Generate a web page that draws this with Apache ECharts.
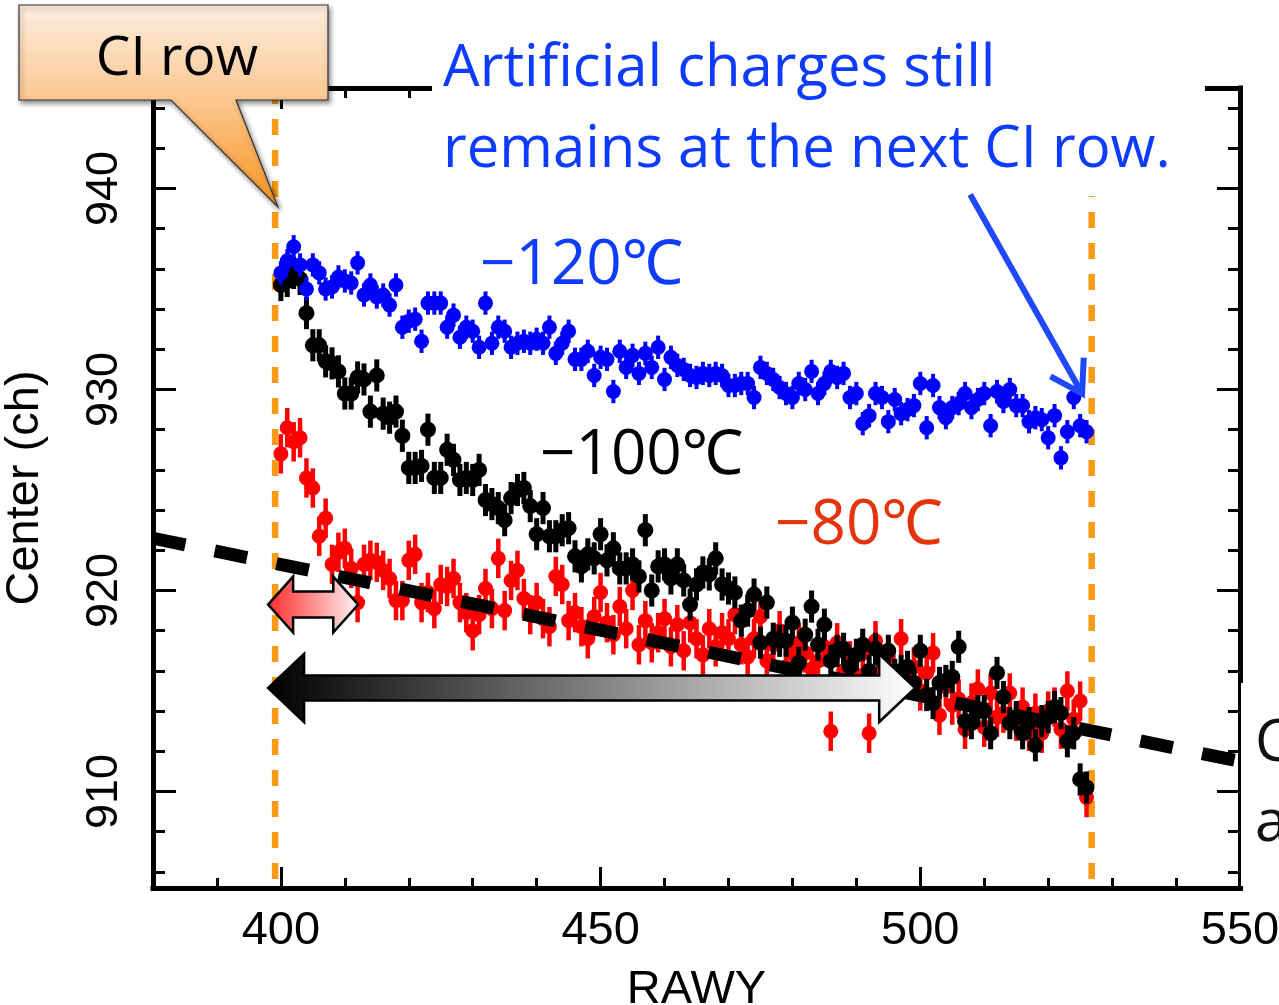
<!DOCTYPE html>
<html><head><meta charset="utf-8">
<script src="https://cdn.jsdelivr.net/npm/echarts@6/dist/echarts.min.js"></script>
<style>html,body{margin:0;padding:0;background:#fff}#c{width:1279px;height:1005px}</style>
</head><body><div id="c"></div><script>
// ---------- data ----------
const rawy = [
400,401,402,403,404,405,406,407,408,409,
410,411,412,413,414,415,416,417,418,419,
420,421,422,423,424,425,426,427,428,429,
430,431,432,433,434,435,436,437,438,439,
440,441,442,443,444,445,446,447,448,449,
450,451,452,453,454,455,456,457,458,459,
460,461,462,463,464,465,466,467,468,469,
470,471,472,473,474,475,476,477,478,479,
480,481,482,483,484,485,486,487,488,489,
490,491,492,493,494,495,496,497,498,499,
500,501,502,503,504,505,506,507,508,509,
510,511,512,513,514,515,516,517,518,519,
520,521,522,523,524,525,526];
const center120 = [
935.8,936.4,937.1,936.2,935.0,936.2,935.8,935.0,935.1,935.6,
935.4,935.3,936.3,934.7,935.2,934.6,934.7,934.2,935.2,933.1,
933.4,933.5,932.4,934.3,934.3,934.3,933.1,933.7,932.6,933.1,
932.9,932.1,934.3,932.3,933.1,932.9,932.1,932.3,932.4,932.3,
932.5,932.3,933.1,931.8,932.3,932.9,931.5,931.5,931.9,930.7,
931.6,931.5,929.9,931.9,931.1,931.7,930.8,931.8,931.1,932.1,
930.5,931.6,931.2,931.0,930.7,930.6,930.8,930.7,930.8,930.7,
930.2,930.2,930.3,930.3,929.6,931.1,930.8,930.5,930.1,929.8,
929.6,930.3,930.0,930.9,929.8,930.3,930.9,930.6,930.8,929.6,
929.8,928.3,928.7,929.8,929.6,928.4,929.5,928.8,929.0,929.2,
930.3,928.1,930.2,929.1,928.6,929.1,929.3,929.8,929.1,929.5,
929.8,928.2,929.9,929.4,930.0,929.2,929.2,928.4,928.6,928.5,
927.6,928.7,926.6,927.9,929.6,928.2,927.9];
const center100 = [
935.2,935.4,935.8,935.5,933.8,932.2,932.2,931.4,931.3,930.9,
929.8,929.8,930.6,930.5,928.9,930.7,928.8,928.6,928.9,927.7,
926.1,926.1,926.2,928.0,925.6,925.6,927.0,926.5,925.5,925.6,
925.5,926.0,924.5,924.3,924.1,923.5,924.6,925.0,925.1,924.2,
922.8,924.1,922.7,922.7,923.0,923.1,921.7,921.2,921.8,921.6,
922.8,921.5,922.1,921.1,921.1,921.3,920.7,923.0,920.0,921.2,
921.3,920.6,921.3,920.5,919.3,920.3,920.9,920.8,921.6,920.3,
920.1,919.9,918.5,919.0,919.8,917.4,919.4,917.6,917.5,917.5,
918.4,916.4,917.8,919.2,917.3,918.3,916.5,917.0,917.1,916.2,
916.8,917.3,916.0,917.1,916.5,917.0,915.8,916.0,916.2,915.4,
917.0,914.8,914.4,915.4,915.5,915.7,917.2,913.5,913.4,914.0,
914.0,912.9,915.9,914.7,913.4,913.7,912.9,913.4,912.3,913.5,
913.7,914.2,913.9,912.5,912.9,910.6,910.2];
const center80 = [
926.8,928.1,927.4,927.6,925.6,925.1,922.7,923.6,921.3,921.9,
922.1,921.1,919.4,921.3,921.5,921.4,921.0,920.6,919.5,919.5,
921.5,921.8,919.4,919.9,919.1,920.3,920.2,920.6,919.4,918.9,
918.0,918.8,920.1,919.1,921.6,919.0,920.5,921.0,919.6,918.8,
919.4,918.6,918.2,920.7,920.3,918.5,918.9,918.2,917.6,918.7,
919.9,918.4,917.8,919.2,918.1,920.0,917.3,918.5,917.4,917.9,
918.6,917.2,918.3,917.0,918.4,917.6,916.8,918.1,917.2,917.9,
917.6,918.8,917.3,916.7,917.6,918.7,916.5,917.3,918.0,916.2,
916.9,917.4,916.9,916.1,916.5,917.2,913.0,917.4,916.0,916.5,
915.8,916.9,912.9,917.5,916.0,916.7,915.4,917.6,915.7,916.2,
915.0,915.9,916.9,913.8,915.2,914.3,914.6,913.1,914.4,915.1,
913.2,914.9,913.7,913.9,914.9,913.5,914.2,913.0,913.9,912.9,
914.0,914.2,913.1,915.0,913.6,914.5,909.7];
// half-length of error bars (ch) per temperature
const err120 = 0.58, err100 = 0.8, err80 = 0.98;

// reference lines
const ciRows = [399.1, 526.8];                 // CI row positions (RAWY)
const trendLine = [[380, 922.6], [550, 911.5]]; // dashed guide line

// axes
const X_MIN = 380, X_MAX = 550, Y_MIN = 905.2, Y_MAX = 945;
const xMajor = [400, 450, 500, 550];
const xTickLabels = ['400', '450', '500', '550'];
const xMinor = [390,400,410,420,430,440,450,460,470,480,490,500,510,520,530,540];
const yMajor = [910, 920, 930, 940];
const yTickLabels = ['910', '920', '930', '940'];
const yMinor = [906,908,910,912,914,916,918,920,922,924,926,928,930,932,934,936,938,940,942,944];

// annotations (data coordinates)
const redRange = {from: 398.0, to: 412.1, y: 919.3};
const blackRange = {from: 398.0, to: 499.2, y: 915.15};
const noteArrow = {from: [507.8, 939.7], to: [525.3, 929.8]};
const labels = {
  t120: '\u2212120\u2103', t100: '\u2212100\u2103', t80: '\u221280\u2103',
  note1: 'Artificial charges still', note2: 'remains at the next CI row.',
  ci: 'CI row', xName: 'RAWY', yName: 'Center (ch)', side1: 'C', side2: 'a'
};

// ---------- chart ----------
const FONT_AX = "'Liberation Sans', Arial, Helvetica, sans-serif";
const FONT_TX = "'Open Sans', 'Noto Sans', sans-serif";
const chart = echarts.init(document.getElementById('c'), null, {renderer: 'canvas'});

function mkX(pos, ticks, len, showLine, showLabel) {
  return {
    type: 'value', position: pos, min: X_MIN, max: X_MAX, gridIndex: 0,
    name: showLabel ? labels.xName : '', nameLocation: 'middle', nameGap: 79,
    nameTextStyle: {fontFamily: FONT_AX, fontSize: 47, color: '#000'},
    axisLine: {show: showLine, onZero: false, lineStyle: {color: '#000', width: 5, cap: 'square'}},
    axisTick: {show: true, inside: true, length: len, customValues: ticks, lineStyle: {color: '#000', width: 3}},
    axisLabel: {show: showLabel, customValues: xMajor, margin: 20,
      formatter: v => { const i = xMajor.indexOf(v); return i >= 0 ? xTickLabels[i] : ''; },
      fontFamily: FONT_AX, fontSize: 47, color: '#000'},
    splitLine: {show: false}
  };
}
function mkY(pos, ticks, len, showLine, showLabel) {
  return {
    type: 'value', position: pos, min: Y_MIN, max: Y_MAX, gridIndex: 0,
    name: showLabel ? labels.yName : '', nameLocation: 'middle', nameGap: 104,
    nameTextStyle: {fontFamily: FONT_AX, fontSize: 47, color: '#000'},
    axisLine: {show: showLine, onZero: false, lineStyle: {color: '#000', width: 5, cap: 'square'}},
    axisTick: {show: true, inside: true, length: len, customValues: ticks, lineStyle: {color: '#000', width: 3}},
    axisLabel: {show: showLabel, customValues: yMajor, margin: 26, rotate: 90,
      formatter: v => { const i = yMajor.indexOf(v); return i >= 0 ? yTickLabels[i] : ''; },
      fontFamily: FONT_AX, fontSize: 45, color: '#000'},
    splitLine: {show: false}
  };
}

function errSeries(name, vals, err, color, r, lw, z) {
  return {
    name, type: 'custom', xAxisIndex: 0, yAxisIndex: 0, z, silent: true,
    data: rawy.map((x, i) => [x, vals[i], err]),
    renderItem: (params, api) => {
      const x = api.value(0), y = api.value(1), e = api.value(2);
      const p = api.coord([x, y]);
      const hi = api.coord([x, y + e]);
      const lo = api.coord([x, y - e]);
      return {type: 'group', children: [
        {type: 'line', shape: {x1: p[0], y1: hi[1], x2: p[0], y2: lo[1]}, style: {stroke: color, lineWidth: lw}},
        {type: 'circle', shape: {cx: p[0], cy: p[1], r: r}, style: {fill: color}}
      ]};
    }
  };
}

const option = {
  animation: false,
  backgroundColor: '#fff',
  grid: {left: 153, top: 88, width: 1087, height: 800, containLabel: false, outerBoundsMode: 'none'},
  xAxis: [
    mkX('bottom', xMinor, 10, true, true),
    mkX('bottom', xMajor, 21, false, false),
    mkX('top', xMinor, 10, true, false),
    mkX('top', xMajor, 21, false, false)
  ],
  yAxis: [
    mkY('left', yMinor, 12, true, true),
    mkY('left', yMajor, 23, false, false),
    mkY('right', yMinor, 12, true, false),
    mkY('right', yMajor, 23, false, false)
  ],
  series: [
    ...ciRows.map(cx => ({
      type: 'line', xAxisIndex: 0, yAxisIndex: 0, z: 1, silent: true, symbol: 'none',
      data: [[cx, Y_MAX], [cx, Y_MIN]],
      lineStyle: {color: '#fb9a14', width: 6.5, type: [16, 15], cap: 'butt'}
    })),
    errSeries('-80', center80, err80, '#ff0000', 7.5, 4.5, 2),
    {
      type: 'line', xAxisIndex: 0, yAxisIndex: 0, z: 3, silent: true, symbol: 'none',
      data: trendLine, lineStyle: {color: '#000', width: 13, type: [33, 30], cap: 'butt'}
    },
    errSeries('-100', center100, err100, '#000000', 8, 5, 4),
    errSeries('-120', center120, err120, '#0000ff', 7.5, 4, 5)
  ]
};
chart.setOption(option);

// ---------- annotations ----------
const toPx = (x, y) => chart.convertToPixel({xAxisIndex: 0, yAxisIndex: 0}, [x, y]);
function dblArrow(x0, x1, yc, hl, hh, sh) {
  return [[x0, yc], [x0 + hl, yc - hh], [x0 + hl, yc - sh], [x1 - hl, yc - sh], [x1 - hl, yc - hh],
          [x1, yc], [x1 - hl, yc + hh], [x1 - hl, yc + sh], [x0 + hl, yc + sh], [x0 + hl, yc + hh]];
}
const rA = toPx(redRange.from, redRange.y), rB = toPx(redRange.to, redRange.y);
const bA = toPx(blackRange.from, blackRange.y), bB = toPx(blackRange.to, blackRange.y);
const nA = toPx(noteArrow.from[0], noteArrow.from[1]), nB = toPx(noteArrow.to[0], noteArrow.to[1]);
const ang = Math.atan2(nA[1] - nB[1], nA[0] - nB[0]);
const armL = 36, spread = 32 * Math.PI / 180;
const arm1 = [nB[0] + armL * Math.cos(ang - spread), nB[1] + armL * Math.sin(ang - spread)];
const arm2 = [nB[0] + armL * Math.cos(ang + spread), nB[1] + armL * Math.sin(ang + spread)];

const graphics = [
  // white backgrounds of text boxes (cover axis parts like in the slide)
  {type: 'rect', z: 50, shape: {x: 432, y: 20, width: 773, height: 176}, style: {fill: '#fff'}},
  {type: 'rect', z: 50, shape: {x: 1241, y: 683, width: 40, height: 203}, style: {fill: '#fff'}},
  // range arrows
  {type: 'polygon', z: 60, shape: {points: dblArrow(bA[0], bB[0], bA[1], 36, 34, 12.5)},
   style: {fill: {type: 'linear', x: 0, y: 0, x2: 1, y2: 0, colorStops: [{offset: 0, color: '#000'}, {offset: 1, color: '#fff'}]},
           stroke: '#000', lineWidth: 2.5}},
  {type: 'polygon', z: 60, shape: {points: dblArrow(rA[0], rB[0], rA[1], 25, 28, 13)},
   style: {fill: {type: 'linear', x: 0, y: 0, x2: 1, y2: 0, colorStops: [{offset: 0, color: '#ff2a2a'}, {offset: 1, color: '#fff4f4'}]},
           stroke: '#000', lineWidth: 2.5}},
  // note arrow
  {type: 'polyline', z: 60, shape: {points: [nA, nB]}, style: {stroke: '#1f48ff', lineWidth: 6, fill: null}},
  {type: 'polyline', z: 60, shape: {points: [arm1, nB, arm2]}, style: {stroke: '#1f48ff', lineWidth: 6, fill: null, lineJoin: 'miter'}},
  // temperature labels
  {type: 'text', z: 70, x: 480, y: 266, style: {text: labels.t120, fill: '#0d3bff', font: "62px " + FONT_TX, verticalAlign: 'middle'}},
  {type: 'text', z: 70, x: 540, y: 456, style: {text: labels.t100, fill: '#000', font: "62px " + FONT_TX, verticalAlign: 'middle'}},
  {type: 'text', z: 70, x: 775, y: 526, style: {text: labels.t80, fill: '#e5340b', font: "62px " + FONT_TX, verticalAlign: 'middle'}},
  // note text
  {type: 'text', z: 70, x: 443, y: 69, style: {text: labels.note1, fill: '#0d3bff', font: "58px " + FONT_TX, verticalAlign: 'middle'}},
  {type: 'text', z: 70, x: 443, y: 150, style: {text: labels.note2, fill: '#0d3bff', font: "58px " + FONT_TX, verticalAlign: 'middle'}},
  // right-side cut text
  {type: 'text', z: 70, x: 1255, y: 744, style: {text: labels.side1, fill: '#111', font: "58px " + FONT_TX, verticalAlign: 'middle'}},
  {type: 'text', z: 70, x: 1255, y: 824, style: {text: labels.side2, fill: '#111', font: "58px " + FONT_TX, verticalAlign: 'middle'}},
  // callout
  {type: 'polygon', z: 80,
   shape: {points: [[19, 5], [328, 5], [328, 100], [236, 100], [278, 207], [171, 100], [19, 100]]},
   style: {fill: {type: 'linear', x: 0, y: 0, x2: 0, y2: 1, colorStops: [
       {offset: 0, color: '#fdeee0'}, {offset: 0.46, color: '#fcc892'}, {offset: 1, color: '#f7931e'}]},
     stroke: '#333', lineWidth: 1.2, shadowBlur: 5, shadowOffsetX: 2, shadowOffsetY: 3, shadowColor: 'rgba(0,0,0,0.45)'}},
  {type: 'text', z: 81, x: 177, y: 59, style: {text: labels.ci, fill: '#000', font: "55px " + FONT_TX, align: 'center', verticalAlign: 'middle'}}
];
chart.setOption({graphic: graphics});
</script></body></html>
